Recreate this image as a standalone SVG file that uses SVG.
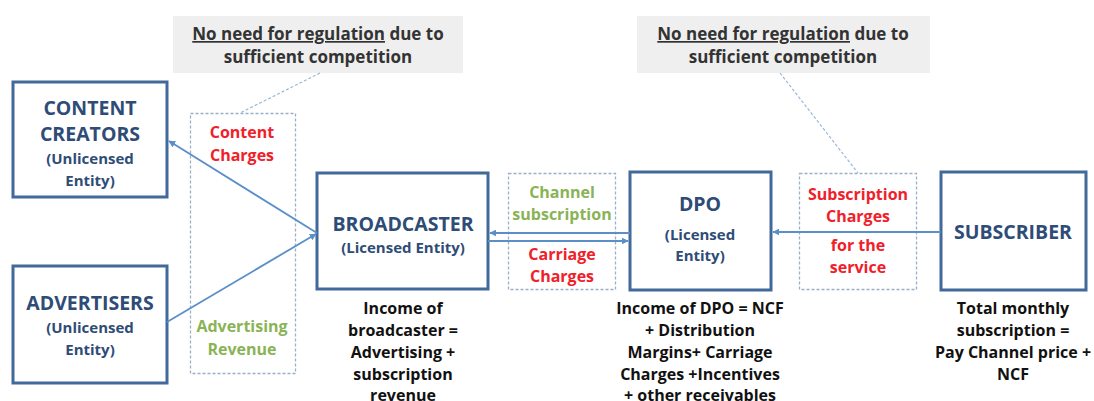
<svg xmlns="http://www.w3.org/2000/svg" width="1094" height="401" viewBox="0 0 1094 401">
<defs>
<style>
text{font-family:"Open Sans",Lato,"Liberation Sans",sans-serif;font-weight:bold;text-anchor:middle}
.node{fill:#fff;stroke:#41699A;stroke-width:3}
.title{fill:#2E4C76;font-size:19.5px}
.sub{fill:#2E4C76;font-size:15px}
.dash{fill:none;stroke:#9AB0C8;stroke-width:1.3;stroke-dasharray:3 2}
.callout{fill:#EFEFEF}
.ct{fill:#333;font-size:17px}
.red{fill:#F0202A;font-size:16px}
.green{fill:#8AB356;font-size:16px}
.inc{fill:#111;font-size:16px}
.arr{stroke:#5A8FC8;stroke-width:1.8;fill:none}
.lead{stroke:#9AB8DA;stroke-width:1.2;stroke-dasharray:3 2;fill:none}
</style>
<marker id="ah" viewBox="0 0 10 10" refX="9" refY="5" markerWidth="7" markerHeight="7" orient="auto-start-reverse" markerUnits="userSpaceOnUse">
<path d="M0,0 L10,5 L0,10 z" fill="#5A8FC8"/>
</marker>
</defs>
<rect width="1094" height="401" fill="#fff"/>

<g id="callout-left">
<rect class="callout" x="173" y="16" width="290" height="57"/>
<text class="ct" x="318" y="40"><tspan text-decoration="underline">No need for regulation</tspan> due to</text>
<text class="ct" x="318" y="63">sufficient competition</text>
</g>
<g id="callout-right">
<rect class="callout" x="637" y="16" width="293" height="57"/>
<text class="ct" x="783" y="40"><tspan text-decoration="underline">No need for regulation</tspan> due to</text>
<text class="ct" x="783" y="63">sufficient competition</text>
</g>

<g id="label-content-advertising">
<rect class="dash" x="190.5" y="113.5" width="105" height="260"/>
<text class="red" x="242" y="138">Content</text>
<text class="red" x="242" y="161">Charges</text>
<text class="green" x="242" y="332">Advertising</text>
<text class="green" x="242" y="355">Revenue</text>
</g>
<g id="label-channel-carriage">
<rect class="dash" x="508.5" y="173.5" width="107" height="116"/>
<text class="green" x="562" y="198">Channel</text>
<text class="green" x="562" y="220">subscription</text>
<text class="red" x="562" y="260">Carriage</text>
<text class="red" x="562" y="282">Charges</text>
</g>
<g id="label-subscription">
<rect class="dash" x="799.5" y="173.5" width="117" height="116"/>
<text class="red" x="858" y="200">Subscription</text>
<text class="red" x="858" y="222">Charges</text>
<text class="red" x="858" y="251">for the</text>
<text class="red" x="858" y="273">service</text>
</g>

<g id="content-creators">
<rect class="node" x="13" y="82" width="154" height="115"/>
<text class="title" x="90" y="115">CONTENT</text>
<text class="title" x="90" y="141">CREATORS</text>
<text class="sub" x="90" y="164">(Unlicensed</text>
<text class="sub" x="90" y="186">Entity)</text>
</g>
<g id="advertisers">
<rect class="node" x="13" y="266" width="154" height="117"/>
<text class="title" x="90" y="310">ADVERTISERS</text>
<text class="sub" x="90" y="333">(Unlicensed</text>
<text class="sub" x="90" y="355">Entity)</text>
</g>
<g id="broadcaster">
<rect class="node" x="317" y="173" width="171" height="116"/>
<text class="title" x="403" y="231">BROADCASTER</text>
<text class="sub" x="403" y="253">(Licensed Entity)</text>
<text class="inc" x="403" y="314">Income of</text>
<text class="inc" x="403" y="336">broadcaster =</text>
<text class="inc" x="403" y="358">Advertising +</text>
<text class="inc" x="403" y="380">subscription</text>
<text class="inc" x="403" y="401">revenue</text>
</g>
<g id="dpo">
<rect class="node" x="630" y="172" width="141" height="118"/>
<text class="title" x="700" y="211">DPO</text>
<text class="sub" x="700" y="240">(Licensed</text>
<text class="sub" x="700" y="261">Entity)</text>
<text class="inc" x="700" y="314">Income of DPO = NCF</text>
<text class="inc" x="700" y="336">+ Distribution</text>
<text class="inc" x="700" y="358">Margins+ Carriage</text>
<text class="inc" x="700" y="380">Charges +Incentives</text>
<text class="inc" x="700" y="401">+ other receivables</text>
</g>
<g id="subscriber">
<rect class="node" x="941" y="172" width="145" height="118"/>
<text class="title" x="1013" y="239">SUBSCRIBER</text>
<text class="inc" x="1013" y="314">Total monthly</text>
<text class="inc" x="1013" y="336">subscription =</text>
<text class="inc" x="1013" y="358">Pay Channel price +</text>
<text class="inc" x="1013" y="380">NCF</text>
</g>

<g id="connectors">
<line class="arr" x1="317" y1="233" x2="169" y2="141" marker-end="url(#ah)"/>
<line class="arr" x1="167" y1="322" x2="316" y2="234" marker-end="url(#ah)"/>
<line class="arr" x1="630" y1="233" x2="490" y2="233" marker-end="url(#ah)"/>
<line class="arr" x1="488" y1="241" x2="628" y2="241" marker-end="url(#ah)"/>
<line class="arr" x1="941" y1="232" x2="773" y2="232" marker-end="url(#ah)"/>
<line class="lead" x1="320" y1="73" x2="240" y2="113"/>
<line class="lead" x1="780" y1="73" x2="858" y2="173"/>
</g>
</svg>
